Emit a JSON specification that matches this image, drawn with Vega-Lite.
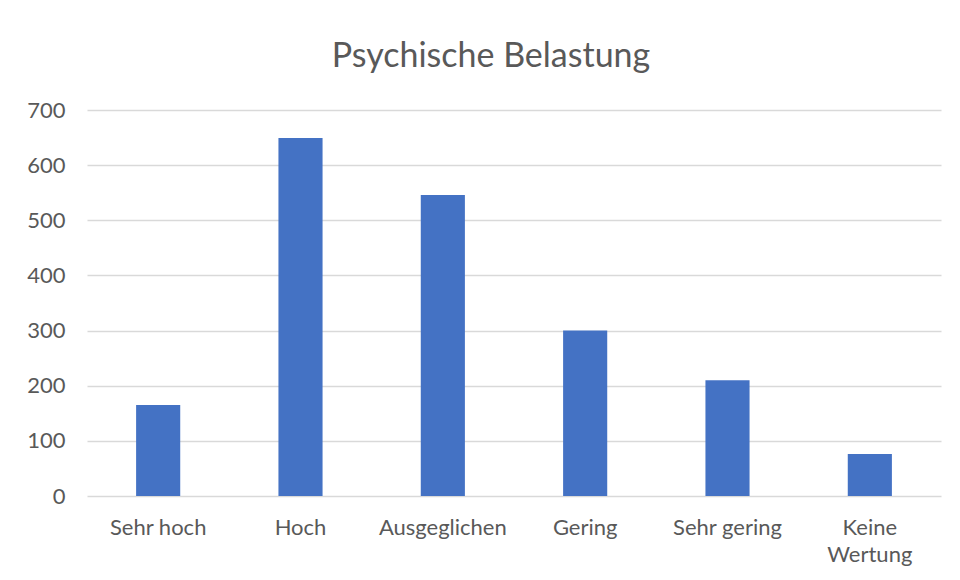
{
  "$schema": "https://vega.github.io/schema/vega-lite/v6.json",
  "width": 854,
  "height": 386,
  "autosize": {"type": "none"},
  "padding": {"left": 87, "top": 110, "right": 19, "bottom": 84},
  "background": "white",
  "title": {
    "text": "Psychische Belastung",
    "font": "Lato",
    "fontSize": 34,
    "fontWeight": "normal",
    "color": "#595959",
    "anchor": "middle",
    "dx": -23,
    "offset": 25
  },
  "data": {
    "values": [
      {"kategorie": "Sehr hoch", "anzahl": 165},
      {"kategorie": "Hoch", "anzahl": 649},
      {"kategorie": "Ausgeglichen", "anzahl": 546},
      {"kategorie": "Gering", "anzahl": 300},
      {"kategorie": "Sehr gering", "anzahl": 210},
      {"kategorie": "Keine Wertung", "anzahl": 76}
    ]
  },
  "mark": {"type": "bar", "color": "#4472C4"},
  "encoding": {
    "x": {
      "field": "kategorie",
      "type": "nominal",
      "sort": null,
      "scale": {"paddingInner": 0.69, "paddingOuter": 0.345},
      "axis": {
        "title": null,
        "labelAngle": 0,
        "domain": false,
        "ticks": false,
        "labelFont": "Lato",
        "labelFontSize": 22,
        "labelColor": "#595959",
        "labelPadding": 21,
        "labelLineHeight": 27,
        "labelExpr": "datum.label == 'Keine Wertung' ? ['Keine', 'Wertung'] : datum.label"
      }
    },
    "y": {
      "field": "anzahl",
      "type": "quantitative",
      "scale": {"domain": [0, 700]},
      "axis": {
        "title": null,
        "values": [0, 100, 200, 300, 400, 500, 600, 700],
        "domain": false,
        "ticks": false,
        "labelFont": "Lato",
        "labelFontSize": 22,
        "labelColor": "#595959",
        "labelPadding": 22,
        "gridColor": "#D9D9D9",
        "gridWidth": 1.3
      }
    }
  },
  "config": {"view": {"stroke": null}}
}
